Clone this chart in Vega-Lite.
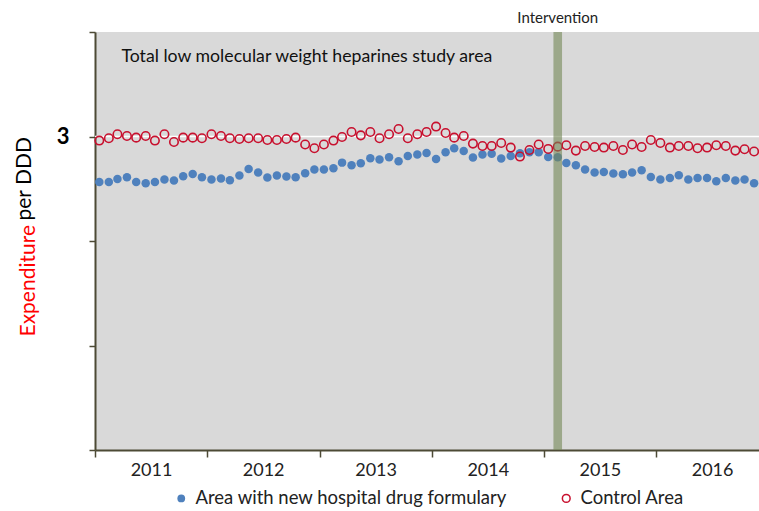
{
  "$schema": "https://vega.github.io/schema/vega-lite/v6.json",
  "width": 664,
  "height": 418,
  "autosize": {"type": "none"},
  "padding": {"left": 95, "top": 32, "right": 0, "bottom": 61},
  "background": "white",
  "config": {"view": {"fill": "#d9d9d9", "stroke": null}, "font": "Lato"},
  "resolve": {"scale": {"y": "independent"}, "axis": {"y": "independent"}},
  "layer": [
    {
      "data": {"values": [{"v": 3}]},
      "mark": {"type": "rule", "color": "white", "strokeWidth": 1.5},
      "encoding": {
        "y": {"field": "v", "type": "quantitative", "scale": {"domain": [0, 4], "nice": false},
          "axis": {"orient": "left", "title": "Expenditure", "titleColor": "#ff0000", "titleFontSize": 21, "titleFontWeight": "normal",
            "titleX": -61, "titleY": 304, "titleAngle": -90, "titleAlign": "left", "titleBaseline": "alphabetic",
            "labels": false, "ticks": false, "domain": false, "grid": false}}
      }
    },
    {
      "data": {"values": [
        {"month": "2011-01-15", "Area with new hospital drug formulary": 2.565, "Control Area": 2.961},
        {"month": "2011-02-15", "Area with new hospital drug formulary": 2.565, "Control Area": 2.983},
        {"month": "2011-03-15", "Area with new hospital drug formulary": 2.594, "Control Area": 3.021},
        {"month": "2011-04-15", "Area with new hospital drug formulary": 2.610, "Control Area": 3.005},
        {"month": "2011-05-15", "Area with new hospital drug formulary": 2.565, "Control Area": 2.989},
        {"month": "2011-06-15", "Area with new hospital drug formulary": 2.553, "Control Area": 3.005},
        {"month": "2011-07-15", "Area with new hospital drug formulary": 2.565, "Control Area": 2.961},
        {"month": "2011-08-15", "Area with new hospital drug formulary": 2.588, "Control Area": 3.021},
        {"month": "2011-09-15", "Area with new hospital drug formulary": 2.578, "Control Area": 2.947},
        {"month": "2011-10-15", "Area with new hospital drug formulary": 2.620, "Control Area": 2.989},
        {"month": "2011-11-15", "Area with new hospital drug formulary": 2.642, "Control Area": 2.989},
        {"month": "2011-12-15", "Area with new hospital drug formulary": 2.610, "Control Area": 2.983},
        {"month": "2012-01-15", "Area with new hospital drug formulary": 2.588, "Control Area": 3.021},
        {"month": "2012-02-15", "Area with new hospital drug formulary": 2.598, "Control Area": 3.005},
        {"month": "2012-03-15", "Area with new hospital drug formulary": 2.581, "Control Area": 2.983},
        {"month": "2012-04-15", "Area with new hospital drug formulary": 2.626, "Control Area": 2.976},
        {"month": "2012-05-15", "Area with new hospital drug formulary": 2.689, "Control Area": 2.983},
        {"month": "2012-06-15", "Area with new hospital drug formulary": 2.655, "Control Area": 2.983},
        {"month": "2012-07-15", "Area with new hospital drug formulary": 2.607, "Control Area": 2.967},
        {"month": "2012-08-15", "Area with new hospital drug formulary": 2.626, "Control Area": 2.967},
        {"month": "2012-09-15", "Area with new hospital drug formulary": 2.617, "Control Area": 2.976},
        {"month": "2012-10-15", "Area with new hospital drug formulary": 2.610, "Control Area": 2.989},
        {"month": "2012-11-15", "Area with new hospital drug formulary": 2.648, "Control Area": 2.923},
        {"month": "2012-12-15", "Area with new hospital drug formulary": 2.684, "Control Area": 2.887},
        {"month": "2013-01-15", "Area with new hospital drug formulary": 2.684, "Control Area": 2.923},
        {"month": "2013-02-15", "Area with new hospital drug formulary": 2.696, "Control Area": 2.961},
        {"month": "2013-03-15", "Area with new hospital drug formulary": 2.750, "Control Area": 2.995},
        {"month": "2013-04-15", "Area with new hospital drug formulary": 2.725, "Control Area": 3.043},
        {"month": "2013-05-15", "Area with new hospital drug formulary": 2.744, "Control Area": 3.011},
        {"month": "2013-06-15", "Area with new hospital drug formulary": 2.792, "Control Area": 3.043},
        {"month": "2013-07-15", "Area with new hospital drug formulary": 2.779, "Control Area": 2.983},
        {"month": "2013-08-15", "Area with new hospital drug formulary": 2.801, "Control Area": 3.021},
        {"month": "2013-09-15", "Area with new hospital drug formulary": 2.763, "Control Area": 3.072},
        {"month": "2013-10-15", "Area with new hospital drug formulary": 2.814, "Control Area": 2.983},
        {"month": "2013-11-15", "Area with new hospital drug formulary": 2.827, "Control Area": 3.021},
        {"month": "2013-12-15", "Area with new hospital drug formulary": 2.842, "Control Area": 3.043},
        {"month": "2014-01-15", "Area with new hospital drug formulary": 2.785, "Control Area": 3.095},
        {"month": "2014-02-15", "Area with new hospital drug formulary": 2.849, "Control Area": 3.033},
        {"month": "2014-03-15", "Area with new hospital drug formulary": 2.887, "Control Area": 2.989},
        {"month": "2014-04-15", "Area with new hospital drug formulary": 2.861, "Control Area": 3.005},
        {"month": "2014-05-15", "Area with new hospital drug formulary": 2.798, "Control Area": 2.932},
        {"month": "2014-06-15", "Area with new hospital drug formulary": 2.827, "Control Area": 2.909},
        {"month": "2014-07-15", "Area with new hospital drug formulary": 2.836, "Control Area": 2.909},
        {"month": "2014-08-15", "Area with new hospital drug formulary": 2.789, "Control Area": 2.938},
        {"month": "2014-09-15", "Area with new hospital drug formulary": 2.814, "Control Area": 2.894},
        {"month": "2014-10-15", "Area with new hospital drug formulary": 2.839, "Control Area": 2.808},
        {"month": "2014-11-15", "Area with new hospital drug formulary": 2.849, "Control Area": 2.871},
        {"month": "2014-12-15", "Area with new hospital drug formulary": 2.849, "Control Area": 2.923},
        {"month": "2015-01-15", "Area with new hospital drug formulary": 2.804, "Control Area": 2.881},
        {"month": "2015-02-15", "Area with new hospital drug formulary": 2.801, "Control Area": 2.903},
        {"month": "2015-03-15", "Area with new hospital drug formulary": 2.747, "Control Area": 2.916},
        {"month": "2015-04-15", "Area with new hospital drug formulary": 2.725, "Control Area": 2.865},
        {"month": "2015-05-15", "Area with new hospital drug formulary": 2.684, "Control Area": 2.909},
        {"month": "2015-06-15", "Area with new hospital drug formulary": 2.655, "Control Area": 2.900},
        {"month": "2015-07-15", "Area with new hospital drug formulary": 2.661, "Control Area": 2.894},
        {"month": "2015-08-15", "Area with new hospital drug formulary": 2.645, "Control Area": 2.909},
        {"month": "2015-09-15", "Area with new hospital drug formulary": 2.638, "Control Area": 2.871},
        {"month": "2015-10-15", "Area with new hospital drug formulary": 2.655, "Control Area": 2.923},
        {"month": "2015-11-15", "Area with new hospital drug formulary": 2.677, "Control Area": 2.900},
        {"month": "2015-12-15", "Area with new hospital drug formulary": 2.613, "Control Area": 2.967},
        {"month": "2016-01-15", "Area with new hospital drug formulary": 2.588, "Control Area": 2.938},
        {"month": "2016-02-15", "Area with new hospital drug formulary": 2.603, "Control Area": 2.894},
        {"month": "2016-03-15", "Area with new hospital drug formulary": 2.629, "Control Area": 2.909},
        {"month": "2016-04-15", "Area with new hospital drug formulary": 2.588, "Control Area": 2.909},
        {"month": "2016-05-15", "Area with new hospital drug formulary": 2.603, "Control Area": 2.887},
        {"month": "2016-06-15", "Area with new hospital drug formulary": 2.603, "Control Area": 2.894},
        {"month": "2016-07-15", "Area with new hospital drug formulary": 2.572, "Control Area": 2.916},
        {"month": "2016-08-15", "Area with new hospital drug formulary": 2.603, "Control Area": 2.909},
        {"month": "2016-09-15", "Area with new hospital drug formulary": 2.578, "Control Area": 2.865},
        {"month": "2016-10-15", "Area with new hospital drug formulary": 2.588, "Control Area": 2.878},
        {"month": "2016-11-15", "Area with new hospital drug formulary": 2.553, "Control Area": 2.856}
      ]},
      "transform": [{"fold": ["Area with new hospital drug formulary", "Control Area"], "as": ["series", "value"]}],
      "mark": {"type": "circle", "size": 72, "strokeWidth": 1.6, "opacity": 1},
      "encoding": {
        "x": {"field": "month", "type": "temporal", "title": null,
          "scale": {"type": "utc", "nice": false, "domain": [{"year": 2011, "month": 1, "date": 1, "utc": true}, {"year": 2016, "month": 12, "date": 1, "utc": true}]},
          "axis": {"values": [
              {"year": 2011, "month": 1, "date": 1, "utc": true},
              {"year": 2012, "month": 1, "date": 1, "utc": true},
              {"year": 2013, "month": 1, "date": 1, "utc": true},
              {"year": 2014, "month": 1, "date": 1, "utc": true},
              {"year": 2015, "month": 1, "date": 1, "utc": true},
              {"year": 2016, "month": 1, "date": 1, "utc": true}],
            "format": "%Y", "formatType": "utc", "labelOffset": 56, "labelFontSize": 18, "labelColor": "#222222", "labelPadding": 4,
            "tickSize": 7, "tickColor": "#4d4a35", "tickWidth": 1.5, "domainColor": "#4d4a35", "domainWidth": 2,
            "grid": false, "labelFlush": false, "labelOverlap": false}},
        "y": {"field": "value", "type": "quantitative", "scale": {"domain": [0, 4], "nice": false},
          "axis": {"orient": "left", "values": [0, 1, 2, 3, 4], "labelExpr": "datum.value == 3 ? '3' : ''",
            "labelFontSize": 22, "labelFontWeight": "bold", "labelColor": "#000000", "labelPadding": 20,
            "tickSize": 6, "tickColor": "#4d4a35", "tickWidth": 1.5, "domainColor": "#4d4a35", "domainWidth": 2, "grid": false,
            "title": "per DDD", "titleColor": "#000000", "titleFontSize": 21, "titleFontWeight": "normal",
            "titleX": -65, "titleY": 188, "titleAngle": -90, "titleAlign": "left", "titleBaseline": "alphabetic"}},
        "fill": {"field": "series", "type": "nominal",
          "scale": {"domain": ["Area with new hospital drug formulary", "Control Area"], "range": ["#4f81bd", "transparent"]},
          "legend": {"orient": "none", "legendX": 77, "legendY": 457, "direction": "horizontal", "title": null, "labelLimit": 500,
            "labelFontSize": 18.5, "labelColor": "#222222", "symbolSize": 60, "symbolStrokeWidth": 1.5, "columnPadding": 49, "labelOffset": 5}},
        "stroke": {"field": "series", "type": "nominal",
          "scale": {"domain": ["Area with new hospital drug formulary", "Control Area"], "range": ["transparent", "#c8102e"]},
          "legend": {"orient": "none", "legendX": 77, "legendY": 457, "direction": "horizontal", "title": null, "labelLimit": 500,
            "labelFontSize": 18.5, "labelColor": "#222222", "symbolSize": 60, "symbolStrokeWidth": 1.5, "columnPadding": 49, "labelOffset": 5}}
      }
    },
    {
      "data": {"values": [{"start": "2015-02-01", "end": "2015-03-01"}]},
      "mark": {"type": "rect", "color": "#738755", "opacity": 0.6},
      "encoding": {
        "x": {"field": "start", "type": "temporal", "title": null},
        "x2": {"field": "end"}
      }
    },
    {
      "data": {"values": [
        {"month": "2011-03-28", "v": 3.757, "label": "Total low molecular weight heparines study area"}
      ]},
      "mark": {"type": "text", "align": "left", "baseline": "middle", "fontSize": 17.7, "color": "#111111"},
      "encoding": {
        "x": {"field": "month", "type": "temporal", "title": null},
        "y": {"field": "v", "type": "quantitative", "scale": {"domain": [0, 4], "nice": false}, "axis": null},
        "text": {"field": "label"}
      }
    },
    {
      "data": {"values": [{"month": "2015-02-15", "v": 4.13, "label": "Intervention"}]},
      "mark": {"type": "text", "align": "center", "baseline": "middle", "fontSize": 15, "color": "#222222"},
      "encoding": {
        "x": {"field": "month", "type": "temporal", "title": null},
        "y": {"field": "v", "type": "quantitative", "scale": {"domain": [0, 4], "nice": false}, "axis": null},
        "text": {"field": "label"}
      }
    }
  ]
}
